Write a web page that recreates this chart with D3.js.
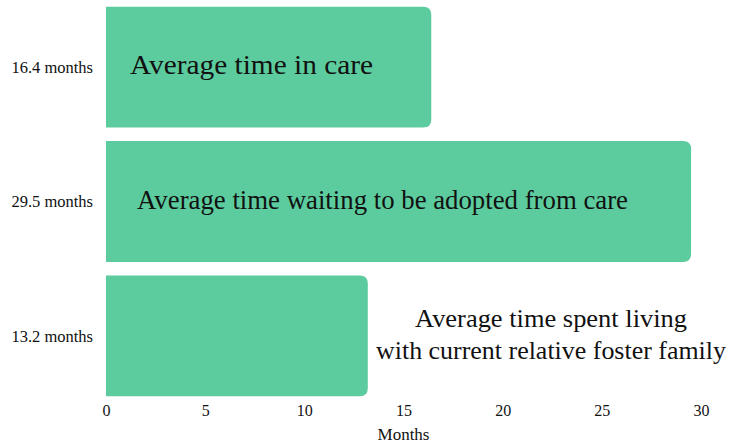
<!DOCTYPE html>
<html>
<head>
<meta charset="utf-8">
<script src="https://cdn.jsdelivr.net/npm/d3@7"></script>
<style>
  body { margin: 0; background: #fff; }
  text { font-family: "Liberation Serif", "DejaVu Serif", serif; fill: #111; }
</style>
</head>
<body>
<svg id="chart" width="731" height="445"></svg>
<script>
const categories = ['16.4 months', '29.5 months', '13.2 months'];
const values = [16.4, 29.5, 13.2];
const barLabels = [
  ['Average time in care'],
  ['Average time waiting to be adopted from care'],
  ['Average time spent living', 'with current relative foster family'],
];
// rendered widths of the label lines, to mimic the original typeface
const labelWidths = [[243], [491], [272, 350]];
const xTicks = [0, 5, 10, 15, 20, 25, 30];

const svg = d3.select('#chart');
const margin = { left: 106, top: 0 };

const x = d3.scaleLinear().domain([0, 30]).range([margin.left, margin.left + 595]);
const y = d3.scaleBand().domain(categories).range([0, 403]).paddingInner(0.1).paddingOuter(0.05);

const color = '#5ccc9e';
const r = 8;

// bars with rounded right corners only
function barPath(x0, x1, y0, h) {
  return `M${x0},${y0}H${x1 - r}Q${x1},${y0} ${x1},${y0 + r}V${y0 + h - r}Q${x1},${y0 + h} ${x1 - r},${y0 + h}H${x0}Z`;
}

svg.selectAll('path.bar')
  .data(values)
  .join('path')
  .attr('class', 'bar')
  .attr('fill', color)
  .attr('d', (d, i) => barPath(x(0), x(d), y(categories[i]), y.bandwidth()));

// left category labels
svg.selectAll('text.cat')
  .data(categories)
  .join('text')
  .attr('class', 'cat')
  .attr('x', margin.left - 13)
  .attr('y', d => y(d) + y.bandwidth() / 2)
  .attr('dy', '0.35em')
  .attr('text-anchor', 'end')
  .style('font-size', '16.5px')
  .text(d => d);

// text on / beside bars
const labelPos = [
  { x: x(0) + 24, anchor: 'start', size: 27 },
  { x: x(0) + 31, anchor: 'start', size: 27 },
  { x: 551, anchor: 'middle', size: 26 },
];
barLabels.forEach((lines, i) => {
  const cy = y(categories[i]) + y.bandwidth() / 2;
  const lh = 32;
  const t = svg.append('text')
    .attr('text-anchor', labelPos[i].anchor)
    .style('font-size', labelPos[i].size + 'px');
  lines.forEach((line, j) => {
    t.append('tspan')
      .attr('x', labelPos[i].x)
      .attr('y', cy + (j - (lines.length - 1) / 2) * lh)
      .attr('dy', '0.27em')
      .attr('textLength', labelWidths[i][j])
      .attr('lengthAdjust', 'spacingAndGlyphs')
      .text(line);
  });
});

// x axis, no domain line or ticks
const xAxis = svg.append('g')
  .attr('transform', 'translate(0,401)')
  .call(d3.axisBottom(x).tickValues(xTicks).tickSize(0).tickPadding(4));
xAxis.select('.domain').remove();
xAxis.selectAll('text')
  .style('font-family', '"Liberation Serif", serif')
  .style('font-size', '16px')
  .attr('fill', '#111');

svg.append('text')
  .attr('x', x(15))
  .attr('y', 435)
  .attr('dy', '0.3em')
  .attr('text-anchor', 'middle')
  .style('font-size', '17px')
  .text('Months');
</script>
</body>
</html>
